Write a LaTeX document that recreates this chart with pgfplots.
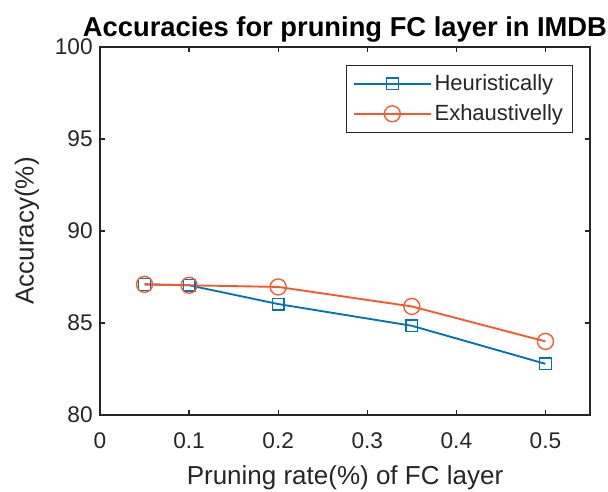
\documentclass[border=0pt]{standalone}
\usepackage{fontspec}
\setmainfont{Liberation Sans}
\usepackage{pgfplots}
\pgfplotsset{compat=1.18}
\usetikzlibrary{calc}
\definecolor{mblue}{RGB}{0,114,189}
\definecolor{morange}{RGB}{250,88,40}
\definecolor{axgray}{RGB}{38,38,38}
\begin{document}
\begin{tikzpicture}
\begin{axis}[
  name=ax,
  scale only axis,
  width=367.5pt, height=276pt,
  xmin=0, xmax=0.55, ymin=80, ymax=100,
  xtick={0,0.1,0.2,0.3,0.4,0.5},
  ytick={80,85,90,95,100},
  /pgf/number format/assume math mode=true,
  /pgf/number format/fixed,
  tick label style={font=\fontsize{17}{20}\selectfont, text=axgray},
  label style={font=\fontsize{19.5}{23}\selectfont, text=axgray},
  xlabel={Pruning rate(\%) of FC layer},
  ylabel={Accuracy(\%)},
  title={\textbf{Accuracies for pruning FC layer in IMDB}},
  title style={font=\fontsize{20.5}{24}\selectfont, yshift=-6pt},
  axis line style={axgray, line width=0.9pt},
  tick style={axgray, line width=0.9pt},
  major tick length=4pt,
  tick align=inside,
  xtick pos=both, ytick pos=both,
  xticklabel pos=lower, yticklabel pos=left,
  xticklabel style={yshift=-10pt},
  yticklabel style={xshift=-2pt},
  xlabel style={yshift=-5.5pt},
  ylabel style={yshift=5pt},
  legend style={at={(axis description cs:0.965,0.951)}, anchor=north east,
    font=\fontsize{16.5}{19}\selectfont, text=axgray, draw=axgray, line width=0.8pt,
    row sep=5pt, inner xsep=5pt, inner ysep=5pt},
  legend cell align=left,
  legend image code/.code={
    \draw[#1, line width=1.4pt, mark repeat=2, mark phase=2] plot coordinates {(0pt,0pt) (29pt,0pt) (58pt,0pt)};
  },
]
\addplot[mblue, line width=1.4pt, mark=square, mark size=4.4pt, mark options={line width=1pt}] coordinates {
  (0.05,87.1) (0.1,87.05) (0.2,86.03) (0.35,84.85) (0.5,82.78)
};
\addlegendentry{Heuristically}
\addplot[morange, line width=1.4pt, mark=o, mark size=6pt, mark options={line width=1pt}] coordinates {
  (0.05,87.1) (0.1,87.05) (0.2,86.96) (0.35,85.9) (0.5,84.0)
};
\addlegendentry{Exhaustivelly}
\end{axis}
\pgfresetboundingbox
\path ($(ax.south west)+(-75pt,-57pt)$) rectangle ($(ax.north east)+(13.5pt,35.25pt)$);
\end{tikzpicture}
\end{document}
